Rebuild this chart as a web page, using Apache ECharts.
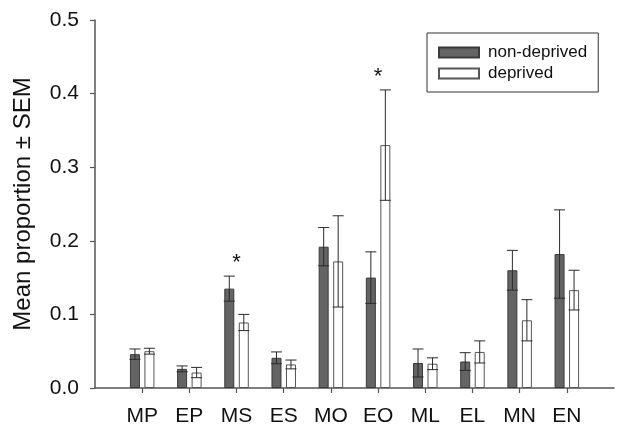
<!DOCTYPE html>
<html>
<head>
<meta charset="utf-8">
<script src="https://cdn.jsdelivr.net/npm/echarts@6/dist/echarts.min.js"></script>
<style>html,body{margin:0;padding:0;background:#fff}#c{width:617px;height:428px}</style>
</head>
<body>
<div id="c"></div>
<script>
// ---- data ----
var categories = ['MP','EP','MS','ES','MO','EO','ML','EL','MN','EN'];
var nonDeprived    = [0.046, 0.026, 0.135, 0.041, 0.192, 0.150, 0.034, 0.036, 0.160, 0.182];
var nonDeprivedSEM = [0.007, 0.004, 0.017, 0.008, 0.026, 0.035, 0.019, 0.012, 0.027, 0.060];
var deprived       = [0.050, 0.021, 0.089, 0.032, 0.172, 0.330, 0.033, 0.049, 0.092, 0.133];
var deprivedSEM    = [0.004, 0.007, 0.011, 0.006, 0.062, 0.075, 0.008, 0.015, 0.028, 0.027];
var significance   = ['', '', '*', '', '', '*', '', '', '', ''];
var yTicks = [0.0, 0.1, 0.2, 0.3, 0.4, 0.5];

// ---- styling constants ----
var FONT = '"Liberation Sans", Arial, sans-serif';
var BAR_W = 10, BAR_GAP = 4.5;
var OFFSET = (BAR_W + BAR_GAP) / 2;
var CAP_HALF = 5.5;

// padded category list: empty slot at each end (axis starts one band before MP)
var axisCats = [''].concat(categories, ['']);
function pad(arr) { return ['-'].concat(arr, ['-']); }

function errData(means, sems) {
  return means.map(function (m, i) { return [i + 1, m, sems[i]]; });
}

function errRender(dir) {
  return function (params, api) {
    var idx = api.value(0), m = api.value(1), s = api.value(2);
    var hi = api.coord([idx, m + s]);
    var lo = api.coord([idx, m - s]);
    var x = hi[0] + dir * OFFSET;
    var st = { stroke: '#2a2a2a', lineWidth: 1 };
    return {
      type: 'group',
      children: [
        { type: 'line', shape: { x1: x, y1: hi[1], x2: x, y2: lo[1] }, style: st },
        { type: 'line', shape: { x1: x - CAP_HALF, y1: hi[1], x2: x + CAP_HALF, y2: hi[1] }, style: st },
        { type: 'line', shape: { x1: x - CAP_HALF, y1: lo[1], x2: x + CAP_HALF, y2: lo[1] }, style: st }
      ]
    };
  };
}

var sigData = significance.map(function (t, i) {
  return [i + 1, Math.max(nonDeprived[i] + nonDeprivedSEM[i], deprived[i] + deprivedSEM[i]), t];
}).filter(function (d) { return d[2] !== ''; });

var chart = echarts.init(document.getElementById('c'), null, { renderer: 'canvas' });
chart.setOption({
  animation: false,
  backgroundColor: '#fff',
  textStyle: { fontFamily: FONT },
  grid: { left: 95, top: 20, width: 525, height: 368, containLabel: false },
  legend: {
    data: ['non-deprived', 'deprived'],
    orient: 'vertical',
    left: 427, top: 33,
    itemWidth: 40, itemHeight: 10, itemGap: 4,
    padding: [11, 11, 10, 11],
    borderColor: '#333', borderWidth: 1,
    icon: 'rect',
    textStyle: { fontSize: 17, color: '#111', fontFamily: FONT, padding: [0, 0, 0, 4] }
  },
  xAxis: {
    type: 'category',
    data: axisCats,
    boundaryGap: false,
    axisLine: { lineStyle: { color: '#555', width: 1.5 } },
    axisTick: { length: 5, lineStyle: { color: '#555', width: 1.2 },
      interval: function (i) { return i > 0 && i < axisCats.length - 1; } },
    axisLabel: { interval: 0, fontSize: 21, color: '#111', margin: 18, fontFamily: FONT },
    splitLine: { show: false }
  },
  yAxis: {
    type: 'value',
    min: yTicks[0], max: yTicks[yTicks.length - 1], interval: 0.1,
    name: 'Mean proportion \u00B1 SEM',
    nameLocation: 'middle', nameRotate: 90, nameGap: 60,
    nameTextStyle: { fontSize: 24, color: '#111', fontFamily: FONT },
    axisLine: { show: true, lineStyle: { color: '#555', width: 1.5 } },
    axisTick: { show: true, length: 5, lineStyle: { color: '#555', width: 1.2 } },
    axisLabel: { fontSize: 21, color: '#111', margin: 16, fontFamily: FONT,
      formatter: function (v) { return v.toFixed(1); } },
    splitLine: { show: false }
  },
  series: [
    {
      name: 'non-deprived', type: 'bar', data: pad(nonDeprived),
      barWidth: BAR_W, barGap: (BAR_GAP / BAR_W * 100) + '%',
      itemStyle: { color: '#646464', borderColor: '#3a3a3a', borderWidth: 1 },
      z: 2
    },
    {
      name: 'deprived', type: 'bar', data: pad(deprived),
      barWidth: BAR_W,
      itemStyle: { color: '#ffffff', borderColor: '#555', borderWidth: 1 },
      z: 2
    },
    { type: 'custom', name: 'errNon', data: errData(nonDeprived, nonDeprivedSEM),
      renderItem: errRender(-1), z: 5, silent: true, clip: false,
      encode: { x: 0, y: 1 } },
    { type: 'custom', name: 'errDep', data: errData(deprived, deprivedSEM),
      renderItem: errRender(1), z: 5, silent: true, clip: false,
      encode: { x: 0, y: 1 } },
    { type: 'custom', name: 'sig', data: sigData, z: 6, silent: true, clip: false,
      encode: { x: 0, y: 1 },
      renderItem: function (params, api) {
        var p = api.coord([api.value(0), api.value(1)]);
        var txt = sigData[params.dataIndex][2];
        return { type: 'text', x: p[0], y: p[1] - 2,
          style: { text: txt, fontSize: 22, fontFamily: FONT, fill: '#111',
                   textAlign: 'center', textVerticalAlign: 'bottom' } };
      } }
  ]
});
</script>
</body>
</html>
